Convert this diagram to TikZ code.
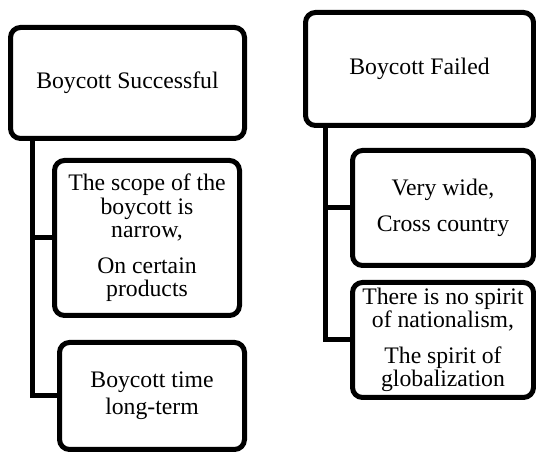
\documentclass[tikz,border=0pt]{standalone}
\usepackage{fontspec}
\setmainfont{Liberation Serif}
\usetikzlibrary{positioning}

\begin{document}
\begin{tikzpicture}[
    x=1pt, y=1pt,
    card/.style={draw, line width=5pt, rounded corners=10pt, align=center, inner sep=0pt,
                 font=\fontsize{23.7}{23.5}\selectfont},
    branch/.style={draw, line width=5pt}
]
\useasboundingbox (0,0) rectangle (536,454);
% successful side
\node[card, minimum width=234pt, minimum height=111pt] (okRoot) at (127.5,371) {Boycott Successful};
\node[card, minimum width=185pt, minimum height=155pt] (okScope) at (147,216)
    {The scope of the\\ boycott is\\ narrow,\\[12pt] On certain\\ products};
\node[card, minimum width=185pt, minimum height=107pt, font=\fontsize{23.7}{27}\selectfont] (okTime) at (152,58)
    {Boycott time\\ long-term};
% failed side
\node[card, minimum width=228pt, minimum height=113pt] (badRoot) at (419.5,385) {Boycott Failed};
\node[card, minimum width=181pt, minimum height=115pt] (badScope) at (443,246)
    {Very wide,\\[12pt] Cross country};
\node[card, minimum width=181pt, minimum height=115pt] (badSpirit) at (443,114)
    {There is no spirit\\ of nationalism,\\[12pt] The spirit of\\ globalization};
\draw[branch] ([xshift=24pt]okRoot.south west) |- (okScope.west);
\draw[branch] ([xshift=24pt]okRoot.south west) |- (okTime.west);
\draw[branch] ([xshift=22.5pt]badRoot.south west) |- (badScope.west);
\draw[branch] ([xshift=22.5pt]badRoot.south west) |- (badSpirit.west);
\end{tikzpicture}
\end{document}
